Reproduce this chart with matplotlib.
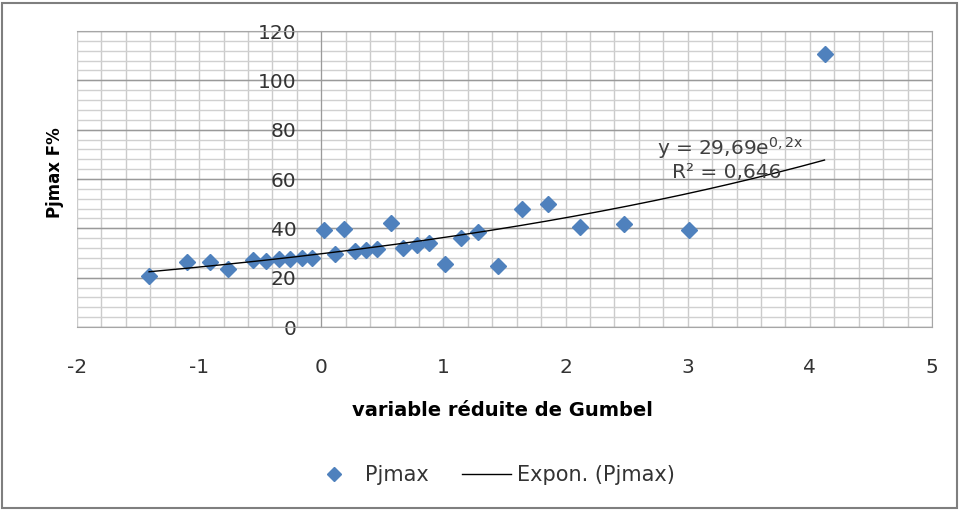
#!/usr/bin/env python3
"""
Gumbel-plot van Pjmax met exponentiële trendlijn.
"""

import numpy as np
import matplotlib
matplotlib.use("Agg")
import matplotlib.pyplot as plt
from matplotlib.patches import Rectangle
from matplotlib.lines import Line2D

# variabele réduite de Gumbel (x) en Pjmax F% (y)
gumbel_u = [-1.41, -1.10, -0.91, -0.76, -0.56, -0.45, -0.35, -0.26, -0.16, -0.08,
            0.02, 0.11, 0.19, 0.28, 0.37, 0.46, 0.57, 0.67, 0.78, 0.88,
            1.01, 1.14, 1.28, 1.45, 1.64, 1.86, 2.12, 2.48, 3.01, 4.12]
pjmax = [20.7, 26.2, 26.2, 23.4, 27.2, 26.9, 27.4, 27.7, 28.0, 28.0,
         39.3, 29.5, 39.7, 30.8, 31.2, 31.8, 42.3, 32.2, 33.2, 34.2,
         25.5, 36.2, 38.4, 24.7, 47.8, 49.7, 40.4, 41.6, 39.3, 110.5]

# coëfficiënten van de trendlijn zoals in de figuur vermeld
trend_a = 29.69
trend_b = 0.2
trend_r2 = "0,646"

x_ticks = [-2, -1, 0, 1, 2, 3, 4, 5]
y_ticks = [0, 20, 40, 60, 80, 100, 120]

plt.rcParams['font.family'] = ['DejaVu Sans']
plt.rcParams['axes.unicode_minus'] = False

fig = plt.figure(figsize=(9.64, 5.11), dpi=100)
W, H = 964, 511
ax = fig.add_axes([77 / W, 1 - 327 / H, (932 - 77) / W, (327 - 31) / H])

ax.set_xlim(-2, 5)
ax.set_ylim(0, 120)

# raster: verticaal elke 0,2, horizontaal elke 4 (hoofdlijnen elke 20)
for xv in np.arange(-2, 5.001, 0.2):
    ax.axvline(xv, color='#cbcbcb', lw=1.0, zorder=0)
for yv in np.arange(0, 120.001, 4):
    ax.axhline(yv, color='#d0d0d0', lw=1.0, zorder=0)
for yv in y_ticks:
    ax.axhline(yv, color='#9a9a9a', lw=1.0, zorder=0)

for s in ['top', 'right', 'bottom']:
    ax.spines[s].set_color('#a6a6a6')
ax.spines['left'].set_position(('data', 0))
ax.spines['left'].set_color('#9a9a9a')

# punten
ax.plot(gumbel_u, pjmax, linestyle='none', marker='D', markersize=8.5,
        color='#4F81BD', zorder=3)

# exponentiële trendlijn
xt = np.linspace(min(gumbel_u), max(gumbel_u), 200)
ax.plot(xt, trend_a * np.exp(trend_b * xt), color='black', lw=1.0, zorder=4)

ax.set_xticks(x_ticks)
ax.set_yticks(y_ticks)
ax.tick_params(axis='x', length=0, pad=22, labelsize=14.5, labelcolor='#333333')
ax.tick_params(axis='y', length=0, pad=18, labelsize=14.5, labelcolor='#333333')

ax.text(2.75, 72.4, r"y = 29,69e$^{\mathregular{0,2x}}$", fontsize=14.5, color='#404040',
        ha='left', va='center', zorder=5)
ax.text(2.87, 62.6, "R² = " + trend_r2, fontsize=14.5, color='#404040',
        ha='left', va='center', zorder=5)

fig.text(502 / W, 1 - 410 / H, "variable réduite de Gumbel", fontsize=14,
         fontweight='bold', ha='center', va='center', color='black')
fig.text(55 / W, 1 - 173 / H, "Pjmax F%", fontsize=12, fontweight='bold',
         rotation=90, ha='center', va='center', color='black')

handles = [Line2D([], [], linestyle='none', marker='D', markersize=7, color='#4F81BD'),
           Line2D([], [], color='black', lw=1.0)]
fig.legend(handles, ['Pjmax', 'Expon. (Pjmax)'], loc='center',
           bbox_to_anchor=(492 / W, 1 - 475 / H), ncol=2, frameon=False,
           fontsize=15, handlelength=2.35, handletextpad=0.3, columnspacing=1.6,
           labelcolor='#333333')

# kader rond de grafiek
fig.patches.append(Rectangle((2 / W, 3 / H), 955 / W, 505 / H, transform=fig.transFigure,
                             fill=False, edgecolor='#7f7f7f', lw=1.5))

fig.savefig('out.png', dpi=100)
